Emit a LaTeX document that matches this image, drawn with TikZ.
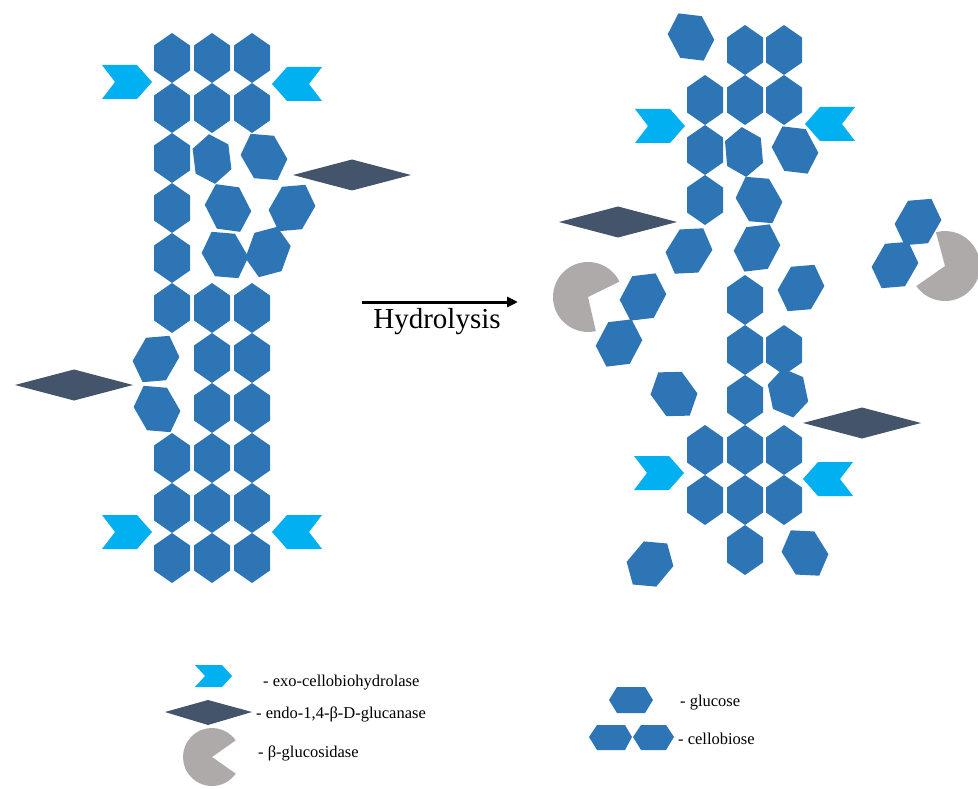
\documentclass[tikz,border=0pt]{standalone}
\usepackage{fontspec}
\setmainfont{Liberation Serif}
\usetikzlibrary{arrows.meta}

\definecolor{hexblue}{HTML}{2E75B6}
\definecolor{exocyan}{HTML}{00B0F0}
\definecolor{endoslate}{HTML}{44546A}
\definecolor{pacgray}{HTML}{AEAAAA}

\tikzset{
  hexa/.style={fill=hexblue},
  exo/.style={fill=exocyan},
  endo/.style={fill=endoslate},
  bglu/.style={fill=pacgray},
  legendtext/.style={anchor=base west, inner sep=0pt, font=\fontsize{16.5}{19}\selectfont},
}

% glucose unit: elongated hexagon at (x,y), turned by an angle
\newcommand\glc[3]{%
  \fill[hexa, shift={(#1,#2)}, rotate=#3]
    (0,25) -- (18,12.5) -- (18,-12.5) -- (0,-25) -- (-18,-12.5) -- (-18,12.5) -- cycle;}
% loose glucose unit, drawn slightly larger
\newcommand\glcL[3]{%
  \fill[hexa, shift={(#1,#2)}, rotate=#3, scale=1.07]
    (0,25) -- (18,12.5) -- (18,-12.5) -- (0,-25) -- (-18,-12.5) -- (-18,12.5) -- cycle;}
% exo-cellobiohydrolase chevron pointing right (tip at x,y)
\newcommand\exoR[2]{%
  \fill[exo, shift={(#1,#2)}] (-50,-17) -- (-15,-17) -- (0,0) -- (-15,17) -- (-50,17) -- (-37,0) -- cycle;}
% exo-cellobiohydrolase chevron pointing left (tip at x,y)
\newcommand\exoL[2]{%
  \fill[exo, shift={(#1,#2)}] (50,-17) -- (15,-17) -- (0,0) -- (15,17) -- (50,17) -- (37,0) -- cycle;}
% endoglucanase rhombus centred at x,y
\newcommand\rhombEG[2]{%
  \fill[endo, shift={(#1,#2)}] (-59,0) -- (0,-15.5) -- (59,0) -- (0,15.5) -- cycle;}

\begin{document}
\begin{tikzpicture}[x=1pt, y=-1pt]
\useasboundingbox (0,0) rectangle (978,789);

% ---------- intact cellulose chain ----------
\foreach \k in {0,...,5,8,9,10} { \glc{172}{58+50*\k}{0} }
\foreach \k in {0,1,5,6,7,8,9,10} { \glc{212}{58+50*\k}{0} \glc{252}{58+50*\k}{0} }
% loosened units
\glc{212}{159}{7}
\glcL{264}{157}{30}
\glcL{228}{208}{27}
\glcL{292}{208}{-30}
\glcL{225}{255}{30}
\glcL{268}{252}{-20}
\glcL{156}{359}{-30}
\glcL{157}{409}{30}

% enzymes on the intact chain
\exoR{152}{82}
\exoL{272}{84}
\exoR{152}{532}
\exoL{272}{532}
\rhombEG{352}{175}
\rhombEG{74}{385}

% ---------- reaction arrow ----------
\coordinate (hyA) at (362,302);
\coordinate (hyB) at (518,302);
\draw[line width=3pt, -{Triangle[length=11pt,width=10pt]}] (hyA) -- (hyB);
\node[anchor=base, inner sep=0pt, font=\fontsize{29}{32}\selectfont] (hylab) at (437,328) {Hydrolysis};

% ---------- hydrolysed chain ----------
\foreach \k in {1,2,3,8,9} { \glc{705}{50+50*\k}{0} }
\foreach \k in {0,1,5,6,7,8,9,10} { \glc{745}{50+50*\k}{0} }
\foreach \k in {0,1,6,8,9} { \glc{784}{50+50*\k}{0} }
% released / loosened units
\glcL{691}{37}{28}
\glc{744}{152}{5}
\glcL{795}{150}{28}
\glcL{759}{200}{30}
\glcL{689}{251}{-32}
\glcL{757}{248}{-28}
\glcL{801}{288}{-30}
\glc{788}{393}{12}
\glcL{674}{394}{36}
\glcL{650}{564}{-40}
\glcL{805}{553}{32}
% cellobiose held by beta-glucosidase
\glcL{643}{297}{-28}
\glcL{619}{343}{-28}
\glcL{918}{222}{-30}
\glcL{895}{265}{-30}

% enzymes on the hydrolysed chain
\exoR{685}{126}
\exoL{805}{124}
\exoR{684}{473}
\exoL{803}{479}
\rhombEG{618}{222}
\rhombEG{862}{423}

% beta-glucosidase units
\begin{scope}[shift={(588,297)}, y=1pt]
  \fill[bglu] (0,0) -- (26:35) arc[start angle=26, end angle=283, radius=35] -- cycle;
\end{scope}
\begin{scope}[shift={(945,266)}, y=1pt]
  \fill[bglu] (0,0) -- (215:35) arc[start angle=215, end angle=465, radius=35] -- cycle;
\end{scope}

% ---------- legend ----------
\fill[exo] (195,665) -- (222,665) -- (232,676) -- (222,687) -- (195,687) -- (205,676) -- cycle;
\node[legendtext] (lg1) at (263,686) {- exo-cellobiohydrolase};
\fill[endo] (165,712) -- (208,700) -- (252,712) -- (208,725) -- cycle;
\node[legendtext] (lg2) at (256,718) {- endo-1,4-β-D-glucanase};
\begin{scope}[shift={(212,757)}, y=1pt]
  \fill[bglu] (0,0) -- (35:29) arc[start angle=35, end angle=325, radius=29] -- cycle;
\end{scope}
\node[legendtext] (lg3) at (258,757) {- β-glucosidase};

\fill[hexa] (609,700) -- (617,687) -- (645,687) -- (653,700) -- (645,713) -- (617,713) -- cycle;
\node[legendtext] (lg4) at (680,706) {- glucose};
\fill[hexa] (589,737) -- (597,725) -- (625,725) -- (632,737) -- (625,750) -- (597,750) -- cycle;
\fill[hexa] (633,737) -- (641,725) -- (666,725) -- (674,737) -- (666,750) -- (641,750) -- cycle;
\node[legendtext] (lg5) at (678,744) {- cellobiose};

\end{tikzpicture}
\end{document}
